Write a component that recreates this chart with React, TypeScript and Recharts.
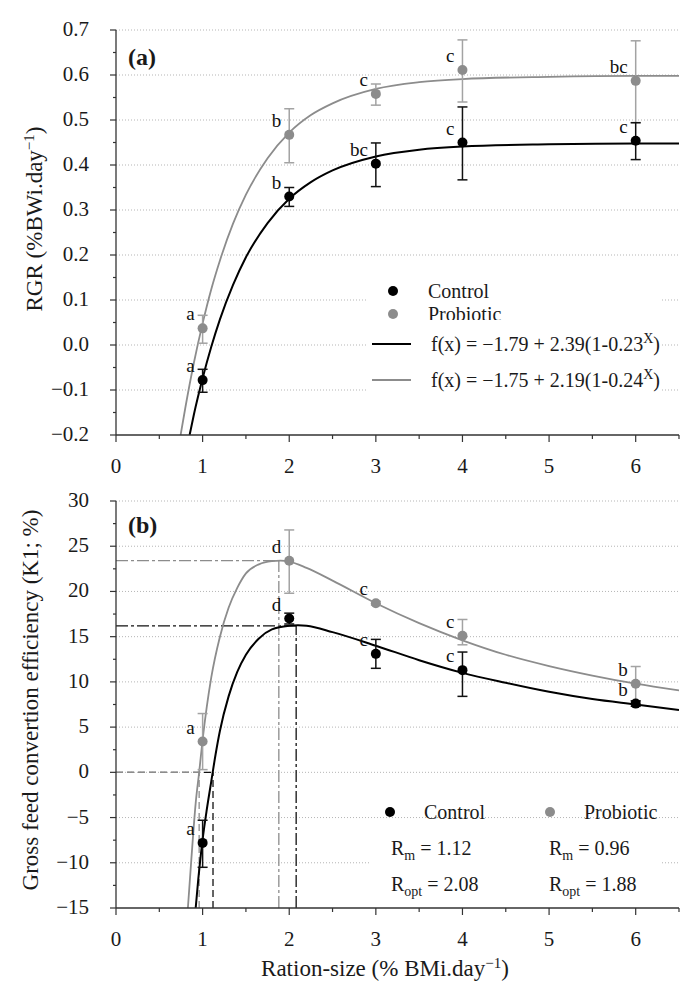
import React from 'react';
import { ComposedChart, Line, Scatter, XAxis, YAxis, CartesianGrid, ErrorBar, ReferenceLine } from 'recharts';

const FONT = "'Liberation Serif', 'DejaVu Serif', 'Times New Roman', serif";
const GRAY = '#8c8c8c';
const GRAY_ERR = '#a3a3a3';

// ration sizes tested (% BMi/day)
const rations = [1, 2, 3, 4, 6];

// (a) RGR, means and error-bar ends
const rgrControl = [-0.078, 0.33, 0.403, 0.45, 0.454];
const rgrControlLow = [-0.105, 0.308, 0.352, 0.367, 0.412];
const rgrControlHigh = [-0.054, 0.35, 0.449, 0.529, 0.494];
const rgrControlLetters = ['a', 'b', 'bc', 'c', 'c'];

const rgrProbiotic = [0.037, 0.467, 0.558, 0.611, 0.587];
const rgrProbioticLow = [0.004, 0.405, 0.533, 0.54, 0.494];
const rgrProbioticHigh = [0.066, 0.525, 0.58, 0.678, 0.676];
const rgrProbioticLetters = ['a', 'b', 'c', 'c', 'bc'];

// (a) fitted curves
const rgrControlCurveX = [0.85, 0.9, 1.0, 1.1, 1.2, 1.35, 1.5, 1.75, 2.0, 2.25, 2.5, 3.0, 3.5, 4.0, 5.0, 6.0, 6.5];
const rgrControlCurveY = [-0.2, -0.154, -0.074, -0.004, 0.057, 0.133, 0.195, 0.271, 0.325, 0.362, 0.388, 0.419, 0.434, 0.441, 0.446, 0.448, 0.448];
const rgrProbioticCurveX = [0.746, 0.8, 0.9, 1.0, 1.1, 1.2, 1.35, 1.5, 1.75, 2.0, 2.25, 2.5, 3.0, 3.5, 4.0, 5.0, 6.0, 6.5];
const rgrProbioticCurveY = [-0.2, -0.14, -0.039, 0.048, 0.124, 0.188, 0.269, 0.334, 0.415, 0.472, 0.511, 0.537, 0.569, 0.584, 0.591, 0.596, 0.598, 0.598];

// (b) K1, means and error-bar ends
const k1Control = [-7.8, 17.0, 13.1, 11.3, 7.6];
const k1ControlLow = [-10.5, 16.4, 11.5, 8.4, 7.3];
const k1ControlHigh = [-5.3, 17.6, 14.7, 13.3, 7.9];
const k1ControlLetters = ['a', 'd', 'c', 'c', 'b'];

const k1Probiotic = [3.4, 23.4, 18.7, 15.1, 9.8];
const k1ProbioticLow = [0.3, 19.8, 18.5, 14.1, 7.9];
const k1ProbioticHigh = [6.5, 26.8, 18.9, 16.9, 11.7];
const k1ProbioticLetters = ['a', 'd', 'c', 'c', 'b'];

// (b) fitted curves
const k1ControlCurveX = [0.92, 0.95, 1.0, 1.05, 1.1, 1.15, 1.2, 1.3, 1.4, 1.5, 1.65, 1.8, 2.0, 2.1, 2.2, 2.5, 3.0, 3.5, 4.0, 4.5, 5.0, 5.5, 6.0, 6.5];
const k1ControlCurveY = [-15.0, -11.8, -7.4, -4.0, -1.0, 2.0, 4.6, 8.4, 11.1, 13.0, 14.8, 15.8, 16.2, 16.25, 16.2, 15.5, 14.0, 12.4, 11.0, 9.9, 8.9, 8.1, 7.5, 6.9];
const k1ProbioticCurveX = [0.83, 0.87, 0.92, 0.96, 1.0, 1.1, 1.2, 1.3, 1.4, 1.5, 1.65, 1.8, 1.9, 2.0, 2.2, 2.5, 3.0, 3.5, 4.0, 4.5, 5.0, 5.5, 6.0, 6.5];
const k1ProbioticCurveY = [-15.0, -9.6, -3.4, 0.0, 3.6, 10.5, 15.0, 18.2, 20.4, 22.0, 23.0, 23.35, 23.4, 23.3, 22.6, 21.2, 18.7, 16.5, 14.6, 13.0, 11.75, 10.7, 9.8, 9.05];

// minimum (Rm) and optimum (Ropt) rations, and K1 at Ropt
const rmValues = [1.12, 0.96];
const roptValues = [2.08, 1.88];
const k1AtOpt = [16.2, 23.4];

// axis ticks
const rationMajor = [0, 1, 2, 3, 4, 5, 6];
const rationMinor = [0.5, 1.5, 2.5, 3.5, 4.5, 5.5, 6.5];
const rgrMajor = [-0.2, -0.1, 0, 0.1, 0.2, 0.3, 0.4, 0.5, 0.6, 0.7];
const rgrMinor = [-0.15, -0.05, 0.05, 0.15, 0.25, 0.35, 0.45, 0.55, 0.65];
const k1Major = [-15, -10, -5, 0, 5, 10, 15, 20, 25, 30];
const k1Minor = [-12.5, -7.5, -2.5, 2.5, 7.5, 12.5, 17.5, 22.5, 27.5];

const makePoints = (ys: number[], lows: number[], highs: number[], letters: string[]) =>
    rations.map((x, i) => ({ x, y: ys[i], err: [ys[i] - lows[i], highs[i] - ys[i]], letter: letters[i] }));

const makeCurve = (xs: number[], ys: number[]) => xs.map((x, i) => ({ x, y: ys[i] }));

const isMajor = (majors: number[], v: number) => majors.some((m) => Math.abs(m - v) < 1e-6);
const minus = (s: string) => s.replace('-', '\u2212');
const serif = { fontFamily: FONT };

const yTick = (majors: number[], fmt: (v: number) => string) => (props: any) => {
    const { x, y, payload } = props;
    const major = isMajor(majors, payload.value);
    return (
        <g>
            <line x1={x - (major ? 6 : 3)} x2={x} y1={y} y2={y} stroke="#333" strokeWidth={1.2} />
            {major && (
                <text x={x - 27} y={y + 6} textAnchor="end" fontSize={21} style={serif} fill="#1a1a1a">
                    {minus(fmt(payload.value))}
                </text>
            )}
        </g>
    );
};

const xTick = (props: any) => {
    const { x, y, payload } = props;
    const major = isMajor(rationMajor, payload.value);
    return (
        <g>
            <line x1={x} x2={x} y1={y} y2={y + (major ? 7 : 4)} stroke="#333" strokeWidth={1.2} />
            {major && (
                <text x={x} y={y + 38} textAnchor="middle" fontSize={21} style={serif} fill="#1a1a1a">
                    {payload.value}
                </text>
            )}
        </g>
    );
};

const dotShape = (fill: string) => (props: any) => (
    <g>
        <circle cx={props.cx} cy={props.cy} r={5} fill={fill} />
        <text x={props.cx - 8} y={props.cy - 8} textAnchor="end" fontSize={19} style={serif} fill="#111">
            {props.payload.letter}
        </text>
    </g>
);

const axisLine = { stroke: '#333', strokeWidth: 1.3 };

function Panel({ height, top, bottom, yDomain, yMajor, yMinor, fmt, children }: any) {
    return (
        <ComposedChart width={700} height={height} margin={{ top, right: 21, bottom, left: 56 }}>
            <CartesianGrid
                vertical={false}
                horizontalValues={yMajor.slice(1)}
                stroke="#b5b5b5"
                strokeDasharray="1 2"
            />
            <XAxis
                type="number"
                dataKey="x"
                domain={[0, 6.5]}
                ticks={[...rationMajor, ...rationMinor].sort((a, b) => a - b)}
                interval={0}
                tickSize={0}
                tickMargin={0}
                tickLine={false}
                axisLine={axisLine}
                tick={xTick}
                height={30}
                allowDataOverflow
            />
            <YAxis
                type="number"
                domain={yDomain}
                ticks={[...yMajor, ...yMinor].sort((a, b) => a - b)}
                interval={0}
                tickSize={0}
                tickMargin={0}
                tickLine={false}
                axisLine={axisLine}
                tick={yTick(yMajor, fmt)}
                width={60}
                allowDataOverflow
            />
            {children}
        </ComposedChart>
    );
}

export default function App() {
    const rgrC = makePoints(rgrControl, rgrControlLow, rgrControlHigh, rgrControlLetters);
    const rgrP = makePoints(rgrProbiotic, rgrProbioticLow, rgrProbioticHigh, rgrProbioticLetters);
    const k1C = makePoints(k1Control, k1ControlLow, k1ControlHigh, k1ControlLetters);
    const k1P = makePoints(k1Probiotic, k1ProbioticLow, k1ProbioticHigh, k1ProbioticLetters);

    const dashDot = '12 3 3 3';
    const refColors = ['#111', GRAY];

    return (
        <div style={{ position: 'absolute', left: 0, top: 0, width: 700, height: 997, background: '#fff', fontFamily: FONT }}>
            <div style={{ position: 'absolute', left: 0, top: 0 }}>
                <Panel height={480} top={30} bottom={15} yDomain={[-0.2, 0.7]} yMajor={rgrMajor} yMinor={rgrMinor}
                    fmt={(v: number) => v.toFixed(1)}>
                    <Line data={makeCurve(rgrProbioticCurveX, rgrProbioticCurveY)} dataKey="y" type="monotone"
                        stroke={GRAY} strokeWidth={1.8} dot={false} isAnimationActive={false} />
                    <Line data={makeCurve(rgrControlCurveX, rgrControlCurveY)} dataKey="y" type="monotone"
                        stroke="#000" strokeWidth={2} dot={false} isAnimationActive={false} />
                    <Scatter data={rgrP} dataKey="y" shape={dotShape(GRAY)} isAnimationActive={false}>
                        <ErrorBar dataKey="err" direction="y" width={5} stroke={GRAY_ERR} strokeWidth={1.5} />
                    </Scatter>
                    <Scatter data={rgrC} dataKey="y" shape={dotShape('#000')} isAnimationActive={false}>
                        <ErrorBar dataKey="err" direction="y" width={5} stroke="#111" strokeWidth={1.5} />
                    </Scatter>
                </Panel>
            </div>
            <div style={{ position: 'absolute', left: 0, top: 480 }}>
                <Panel height={517} top={21} bottom={59} yDomain={[-15, 30]} yMajor={k1Major} yMinor={k1Minor}
                    fmt={(v: number) => String(v)}>
                    {rmValues.map((r, i) => (
                        <ReferenceLine key={`rmh${i}`} segment={[{ x: 0, y: 0 }, { x: r, y: 0 }]}
                            stroke={refColors[i]} strokeWidth={1.3} strokeDasharray="7 4" />
                    ))}
                    {rmValues.map((r, i) => (
                        <ReferenceLine key={`rmv${i}`} segment={[{ x: r, y: -15 }, { x: r, y: 0 }]}
                            stroke={refColors[i]} strokeWidth={1.3} strokeDasharray="7 4" />
                    ))}
                    {roptValues.map((r, i) => (
                        <ReferenceLine key={`oh${i}`} segment={[{ x: 0, y: k1AtOpt[i] }, { x: r, y: k1AtOpt[i] }]}
                            stroke={refColors[i]} strokeWidth={1.3} strokeDasharray={dashDot} />
                    ))}
                    {roptValues.map((r, i) => (
                        <ReferenceLine key={`ov${i}`} segment={[{ x: r, y: -15 }, { x: r, y: k1AtOpt[i] }]}
                            stroke={refColors[i]} strokeWidth={1.3} strokeDasharray={dashDot} />
                    ))}
                    <Line data={makeCurve(k1ProbioticCurveX, k1ProbioticCurveY)} dataKey="y" type="monotone"
                        stroke={GRAY} strokeWidth={1.8} dot={false} isAnimationActive={false} />
                    <Line data={makeCurve(k1ControlCurveX, k1ControlCurveY)} dataKey="y" type="monotone"
                        stroke="#000" strokeWidth={2} dot={false} isAnimationActive={false} />
                    <Scatter data={k1P} dataKey="y" shape={dotShape(GRAY)} isAnimationActive={false}>
                        <ErrorBar dataKey="err" direction="y" width={5} stroke={GRAY_ERR} strokeWidth={1.5} />
                    </Scatter>
                    <Scatter data={k1C} dataKey="y" shape={dotShape('#000')} isAnimationActive={false}>
                        <ErrorBar dataKey="err" direction="y" width={5} stroke="#111" strokeWidth={1.5} />
                    </Scatter>
                </Panel>
            </div>

            {/* titles, panel tags and legends */}
            <svg width={700} height={997} style={{ position: 'absolute', left: 0, top: 0, pointerEvents: 'none', fontFamily: FONT }}
                fill="#1a1a1a">
                <defs>
                    <clipPath id="probClip">
                        <rect x={420} y={300} width={120} height={20} />
                    </clipPath>
                </defs>

                <text x={128} y={65} fontSize={24} fontWeight="bold">(a)</text>
                <text x={128} y={533} fontSize={24} fontWeight="bold">(b)</text>

                <text transform="translate(42,219) rotate(-90)" textAnchor="middle" fontSize={23}>
                    RGR (%BWi.day<tspan dy={-8} fontSize={15}>{'\u22121'}</tspan><tspan dy={8}>)</tspan>
                </text>
                <text transform="translate(38,700) rotate(-90)" textAnchor="middle" fontSize={23}>
                    Gross feed convertion efficiency (K1; %)
                </text>
                <text x={385} y={976} textAnchor="middle" fontSize={23}>
                    Ration-size (% BMi.day<tspan dy={-8} fontSize={15}>{'\u22121'}</tspan><tspan dy={8}>)</tspan>
                </text>

                {/* legend (a) */}
                <rect x={366} y={283} width={294} height={115} fill="#fff" />
                <circle cx={393} cy={291} r={5} fill="#000" />
                <text x={428} y={298} fontSize={20}>Control</text>
                <circle cx={393} cy={314} r={5} fill={GRAY} />
                <text x={428} y={321} fontSize={20} clipPath="url(#probClip)">Probiotic</text>
                <line x1={372} x2={411} y1={344} y2={344} stroke="#000" strokeWidth={2} />
                <text x={431} y={351} fontSize={20}>
                    f(x) = {'\u2212'}1.79 + 2.39(1-0.23<tspan dy={-8} fontSize={14}>X</tspan><tspan dy={8}>)</tspan>
                </text>
                <line x1={372} x2={411} y1={380} y2={380} stroke={GRAY} strokeWidth={1.8} />
                <text x={431} y={387} fontSize={20}>
                    f(x) = {'\u2212'}1.75 + 2.19(1-0.24<tspan dy={-8} fontSize={14}>X</tspan><tspan dy={8}>)</tspan>
                </text>

                {/* legend (b) */}
                <rect x={370} y={826} width={292} height={74} fill="#fff" />
                <circle cx={390} cy={812} r={5} fill="#000" />
                <text x={424} y={819} fontSize={20}>Control</text>
                <circle cx={550} cy={812} r={5} fill={GRAY} />
                <text x={584} y={819} fontSize={20}>Probiotic</text>
                <text x={391} y={855} fontSize={20}>
                    R<tspan dy={5} fontSize={14}>m</tspan><tspan dy={-5}> = 1.12</tspan>
                </text>
                <text x={391} y={891} fontSize={20}>
                    R<tspan dy={5} fontSize={14}>opt</tspan><tspan dy={-5}> = 2.08</tspan>
                </text>
                <text x={549} y={855} fontSize={20}>
                    R<tspan dy={5} fontSize={14}>m</tspan><tspan dy={-5}> = 0.96</tspan>
                </text>
                <text x={549} y={891} fontSize={20}>
                    R<tspan dy={5} fontSize={14}>opt</tspan><tspan dy={-5}> = 1.88</tspan>
                </text>
            </svg>
        </div>
    );
}
